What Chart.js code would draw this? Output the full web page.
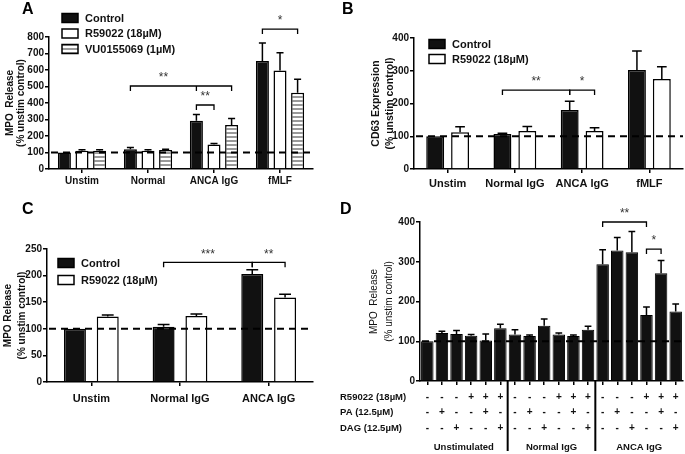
<!DOCTYPE html>
<html>
<head>
<meta charset="utf-8">
<script src="https://cdn.jsdelivr.net/npm/chart.js@4.4.0/dist/chart.umd.min.js"></script>
<style>
  body{margin:0;background:#fff;width:685px;height:454px;position:relative;overflow:hidden}
  canvas{position:absolute}
</style>
</head>
<body>
<canvas id="chartA" width="340" height="200" style="left:0;top:0"></canvas>
<canvas id="chartB" width="345" height="200" style="left:340px;top:0"></canvas>
<canvas id="chartC" width="340" height="254" style="left:0;top:200px"></canvas>
<canvas id="chartD" width="345" height="254" style="left:340px;top:200px"></canvas>

<script>
/* ============================
   DATA
============================ */

const catsA = ["Unstim", "Normal", "ANCA IgG", "fMLF"];
const controlA = [100, 119, 292, 655];
const controlErrA = [0, 12, 38, 108];
const r59022A = [111, 111, 149, 597];
const r59022ErrA = [5, 5, 6, 108];
const vuA = [110, 115, 266, 462];
const vuErrA = [7, 5, 40, 82];

const catsB = ["Unstim", "Normal IgG", "ANCA IgG", "fMLF"];
const controlB = [100, 107, 180, 302];
const controlErrB = [0, 2, 27, 58];
const r59022B = [112, 116, 116, 275];
const r59022ErrB = [17, 14, 10, 37];

const catsC = ["Unstim", "Normal IgG", "ANCA IgG"];
const controlC = [100, 104, 203];
const controlErrC = [0, 4, 8];
const r59022C = [123, 124, 159];
const r59022ErrC = [3, 4, 6];

const groupsD = ["Unstimulated", "Normal IgG", "ANCA IgG"];
const mpoD = [100, 121, 118, 114, 102, 133,
              117, 113, 139, 117, 113, 129,
              294, 328, 324, 166, 271, 175];
const mpoErrD = [0, 4, 9, 3, 16, 10,
                 12, 3, 17, 4, 3, 9,
                 36, 33, 52, 20, 32, 19];
const rowLabelsD = ["R59022 (18\u00b5M)", "PA (12.5\u00b5M)", "DAG (12.5\u00b5M)"];
const r59022Signs = ["-","-","-","+","+","+", "-","-","-","+","+","+", "-","-","-","+","+","+"];
const paSigns     = ["-","+","-","-","+","-", "-","+","-","-","+","-", "-","+","-","-","+","-"];
const dagSigns    = ["-","-","+","-","-","+", "-","-","+","-","-","+", "-","-","+","-","-","+"];

const FONT = "'Liberation Sans', Arial, sans-serif";
const BLACK = "#111111";

Chart.defaults.font.family = FONT;
Chart.defaults.color = "#111";

/* ============================
   PLUGINS
============================ */

// dashed reference line at 100%
function refLine(value){
  return {
    id: "refLine",
    afterDatasetsDraw(chart){
      const {ctx, chartArea, scales:{y}} = chart;
      const py = y.getPixelForValue(value);
      ctx.save();
      ctx.strokeStyle = "#000";
      ctx.lineWidth = 2;
      ctx.setLineDash([7, 5]);
      ctx.beginPath();
      ctx.moveTo(chartArea.left + 2, py);
      ctx.lineTo(chartArea.right, py);
      ctx.stroke();
      ctx.restore();
    }
  };
}

// one sided SEM bars, from dataset.errors
const errorBars = {
  id: "errorBars",
  afterDatasetsDraw(chart){
    const {ctx, scales:{y}} = chart;
    chart.data.datasets.forEach((ds, di) => {
      if(!ds.errors) return;
      chart.getDatasetMeta(di).data.forEach((bar, i) => {
        const err = ds.errors[i];
        if(!err) return;
        const top = y.getPixelForValue(ds.data[i] + err);
        const cap = bar.width * 0.27;
        ctx.save();
        ctx.strokeStyle = "#000";
        ctx.lineWidth = 1.5;
        ctx.beginPath();
        ctx.moveTo(bar.x, bar.y);
        ctx.lineTo(bar.x, top);
        ctx.moveTo(bar.x - cap, top);
        ctx.lineTo(bar.x + cap, top);
        ctx.stroke();
        ctx.restore();
      });
    });
  }
};

// significance brackets; ticks = [[category, dataset], ...]
function brackets(items){
  return {
    id: "brackets",
    afterDraw(chart){
      const {ctx, scales:{y}} = chart;
      items.forEach(b => {
        const xs = b.ticks.map(([c, d]) => chart.getDatasetMeta(d).data[c].x);
        const py = y.getPixelForValue(b.y);
        ctx.save();
        ctx.strokeStyle = "#000";
        ctx.lineWidth = 1.3;
        ctx.beginPath();
        ctx.moveTo(xs[0], py + 5);
        ctx.lineTo(xs[0], py);
        ctx.lineTo(xs[xs.length - 1], py);
        ctx.lineTo(xs[xs.length - 1], py + 5);
        for(let i = 1; i < xs.length - 1; i++){
          ctx.moveTo(xs[i], py);
          ctx.lineTo(xs[i], py + 5);
        }
        ctx.stroke();
        ctx.fillStyle = "#333";
        ctx.font = "12px " + FONT;
        ctx.textAlign = "center";
        ctx.textBaseline = "middle";
        ctx.fillText(b.label, (xs[0] + xs[1]) / 2, py - 8);
        ctx.restore();
      });
    }
  };
}

// legend boxes drawn inside the panel
function boxLegend(x, y, gap){
  return {
    id: "boxLegend",
    afterDraw(chart){
      const {ctx} = chart;
      chart.data.datasets.forEach((ds, i) => {
        const cy = y + i * gap;
        ctx.save();
        ctx.fillStyle = ds.backgroundColor;
        ctx.fillRect(x, cy - 4.5, 16, 9);
        ctx.strokeStyle = "#000";
        ctx.lineWidth = 1.5;
        ctx.strokeRect(x, cy - 4.5, 16, 9);
        ctx.fillStyle = "#111";
        ctx.font = "bold 11px " + FONT;
        ctx.textBaseline = "middle";
        ctx.fillText(ds.label, x + 23, cy + 0.5);
        ctx.restore();
      });
    }
  };
}

function panelLetter(text, x, y){
  return {
    id: "panelLetter",
    afterDraw(chart){
      const {ctx} = chart;
      ctx.save();
      ctx.fillStyle = "#000";
      ctx.font = "bold 16px " + FONT;
      ctx.textBaseline = "middle";
      ctx.fillText(text, x, y);
      ctx.restore();
    }
  };
}

// +/- treatment table under panel D
const treatmentTable = {
  id: "treatmentTable",
  afterDraw(chart){
    const {ctx, chartArea, scales:{x}} = chart;
    const rows = [r59022Signs, paSigns, dagSigns];
    const rowY = [197, 212, 228];
    ctx.save();
    ctx.fillStyle = "#111";
    ctx.textBaseline = "middle";
    rows.forEach((signs, r) => {
      ctx.font = "bold 9.5px " + FONT;
      ctx.textAlign = "left";
      ctx.fillText(rowLabelsD[r], 0, rowY[r]);
      ctx.font = "bold 10px " + FONT;
      ctx.textAlign = "center";
      signs.forEach((s, i) => ctx.fillText(s, x.getPixelForValue(i), rowY[r]));
    });

    // group separators and labels
    const per = mpoD.length / groupsD.length;
    ctx.strokeStyle = "#000";
    ctx.lineWidth = 2;
    groupsD.forEach((g, gi) => {
      const first = x.getPixelForValue(gi * per);
      const last = x.getPixelForValue(gi * per + per - 1);
      ctx.font = "bold 9.5px " + FONT;
      ctx.textAlign = "center";
      ctx.fillText(g, (first + last) / 2, 247);
      if(gi > 0){
        const sx = (first + x.getPixelForValue(gi * per - 1)) / 2;
        ctx.beginPath();
        ctx.moveTo(sx, chartArea.bottom);
        ctx.lineTo(sx, 251);
        ctx.stroke();
      }
    });
    ctx.restore();
  }
};

/* ============================
   SHARED AXIS OPTIONS
============================ */

function xAxis(height, fontSize, pad, showLabels){
  return {
    afterFit: s => { s.height = height; },
    grid: { drawOnChartArea: false, offset: false, color: "#000", lineWidth: 1.5, tickLength: 4 },
    border: { color: "#000", width: 1.5 },
    ticks: { display: showLabels !== false, color: "#111", padding: pad,
             font: { size: fontSize, weight: "bold" }, maxRotation: 0, autoSkip: false }
  };
}

function yAxis(width, max, step, title){
  return {
    min: 0,
    max: max,
    afterFit: s => { s.width = width; },
    grid: { drawOnChartArea: false, color: "#000", lineWidth: 1.5, tickLength: 4 },
    border: { color: "#000", width: 1.5 },
    ticks: { stepSize: step, color: "#111", padding: 1, font: { size: 10, weight: "bold" } },
    title: title
  };
}

function stripes(canvas){
  const c = document.createElement("canvas");
  c.width = 4; c.height = 4;
  const g = c.getContext("2d");
  g.fillStyle = "#fff"; g.fillRect(0, 0, 4, 4);
  g.fillStyle = "#9a9a9a"; g.fillRect(0, 0, 4, 2);
  return canvas.getContext("2d").createPattern(c, "repeat");
}

function barSet(label, data, errors, fill, catPct, barPct){
  return {
    label: label, data: data, errors: errors,
    backgroundColor: fill, borderColor: "#000", borderWidth: 1.5,
    categoryPercentage: catPct, barPercentage: barPct
  };
}

const base = { responsive: false, animation: false, events: [] };

/* ============================
   PANEL A
============================ */

const canvasA = document.getElementById("chartA");
new Chart(canvasA, {
  type: "bar",
  data: {
    labels: catsA,
    datasets: [
      barSet("Control", controlA, controlErrA, BLACK, 0.8, 0.74),
      barSet("R59022 (18\u00b5M)", r59022A, r59022ErrA, "#fff", 0.8, 0.74),
      barSet("VU0155069 (1\u00b5M)", vuA, vuErrA, stripes(canvasA), 0.8, 0.74)
    ]
  },
  options: {
    ...base,
    layout: { padding: { left: 0, top: 37, right: 27, bottom: 0 } },
    plugins: { legend: { display: false }, tooltip: { enabled: false } },
    scales: {
      x: xAxis(31, 10, 2),
      y: yAxis(49, 800, 100, { display: true, text: ["MPO  Release", "(% unstim control)"],
           color: "#111", font: { size: 10, weight: "bold", lineHeight: 1.15 }, padding: { top: 4, bottom: 0 } })
    }
  },
  plugins: [refLine(100), errorBars,
    brackets([
      { ticks: [[1, 0], [2, 0], [2, 2]], y: 503, label: "**" },
      { ticks: [[2, 0], [2, 1]], y: 388, label: "**" },
      { ticks: [[3, 0], [3, 2]], y: 848, label: "*" }
    ]),
    boxLegend(62, 18, 15.5), panelLetter("A", 22, 10)]
});

/* ============================
   PANEL B
============================ */

new Chart(document.getElementById("chartB"), {
  type: "bar",
  data: {
    labels: catsB,
    datasets: [
      barSet("Control", controlB, controlErrB, BLACK, 0.74, 0.72),
      barSet("R59022 (18\u00b5M)", r59022B, r59022ErrB, "#fff", 0.74, 0.72)
    ]
  },
  options: {
    ...base,
    layout: { padding: { left: 0, top: 38, right: 2, bottom: 0 } },
    plugins: { legend: { display: false }, tooltip: { enabled: false } },
    scales: {
      x: xAxis(31, 11, 4),
      y: yAxis(74, 400, 100, { display: true, text: ["CD63 Expression", "(% unstim control)"],
           color: "#111", font: { size: 10.5, weight: "bold", lineHeight: 1.25 }, padding: { top: 30, bottom: 0 } })
    }
  },
  plugins: [refLine(100), errorBars,
    brackets([
      { ticks: [[1, 0], [2, 0]], y: 241, label: "**" },
      { ticks: [[2, 0], [2, 1]], y: 241, label: "*" }
    ]),
    boxLegend(89, 44, 15), panelLetter("B", 2, 10)]
});

/* ============================
   PANEL C
============================ */

new Chart(document.getElementById("chartC"), {
  type: "bar",
  data: {
    labels: catsC,
    datasets: [
      barSet("Control", controlC, controlErrC, BLACK, 0.74, 0.67),
      barSet("R59022 (18\u00b5M)", r59022C, r59022ErrC, "#fff", 0.74, 0.67)
    ]
  },
  options: {
    ...base,
    layout: { padding: { left: 0, top: 49, right: 27, bottom: 0 } },
    plugins: { legend: { display: false }, tooltip: { enabled: false } },
    scales: {
      x: xAxis(72, 11, 6),
      y: yAxis(47, 250, 50, { display: true, text: ["MPO Release", "(% unstim control)"],
           color: "#111", font: { size: 10, weight: "bold", lineHeight: 1.4 }, padding: { top: 1, bottom: 0 } })
    }
  },
  plugins: [refLine(100), errorBars,
    brackets([
      { ticks: [[1, 0], [2, 0]], y: 225, label: "***" },
      { ticks: [[2, 0], [2, 1]], y: 225, label: "**" }
    ]),
    boxLegend(58, 63, 17), panelLetter("C", 22, 10)]
});

/* ============================
   PANEL D
============================ */

new Chart(document.getElementById("chartD"), {
  type: "bar",
  data: {
    labels: mpoD.map((v, i) => String(i + 1)),
    datasets: [
      { label: "MPO", data: mpoD, errors: mpoErrD, backgroundColor: BLACK,
        borderColor: "#000", borderWidth: 1, categoryPercentage: 0.9, barPercentage: 0.95 }
    ]
  },
  options: {
    ...base,
    layout: { padding: { left: 0, top: 22, right: 2, bottom: 0 } },
    plugins: { legend: { display: false }, tooltip: { enabled: false } },
    scales: {
      x: xAxis(73, 10, 2, false),
      y: yAxis(80, 400, 100, { display: true, text: ["MPO  Release", "(% unstim control)"],
           color: "#111", font: { size: 10, lineHeight: 1.5 }, padding: { top: 26.5, bottom: 0 } })
    }
  },
  plugins: [refLine(100), errorBars,
    brackets([
      { ticks: [[12, 0], [15, 0]], y: 400, label: "**" },
      { ticks: [[15, 0], [16, 0]], y: 332, label: "*" }
    ]),
    treatmentTable, panelLetter("D", 0, 10)]
});
</script>
</body>
</html>
